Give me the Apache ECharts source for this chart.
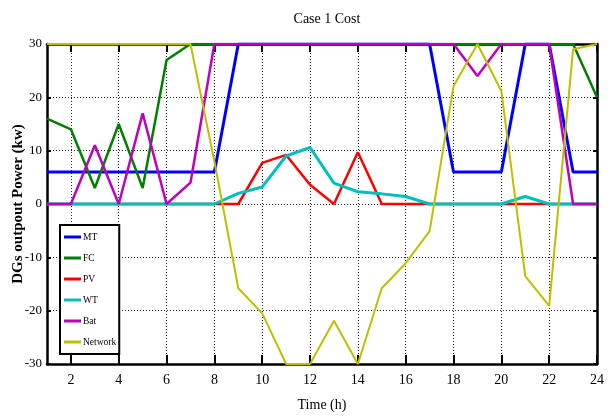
<!DOCTYPE html>
<html>
<head>
<meta charset="utf-8">
<script src="https://cdn.jsdelivr.net/npm/echarts@6/dist/echarts.min.js"></script>
<style>
html,body{margin:0;padding:0;background:#fff;}
#chart{width:614px;height:417px;}
</style>
</head>
<body>
<div id="chart"></div>
<script>
var hours = ['1','2','3','4','5','6','7','8','9','10','11','12','13','14','15','16','17','18','19','20','21','22','23','24'];
var MT = [6,6,6,6,6,6,6,6,30,30,30,30,30,30,30,30,30,6,6,6,30,30,6,6];
var FC = [16,14,3,15,3,27,30,30,30,30,30,30,30,30,30,30,30,30,30,30,30,30,30,20];
var PV = [0,0,0,0,0,0,0,0,0,7.7,9.2,3.6,0,9.7,0,0,0,0,0,0,0,0,0,0];
var WT = [0,0,0,0,0,0,0,0,2.0,3.2,9.0,10.6,3.9,2.3,1.9,1.4,0,0,0,0,1.4,0,0,0];
var Bat = [0,0,11,0,17,0,4,30,30,30,30,30,30,30,30,30,30,30,24,30,30,30,0,0];
var Network = [30,30,30,30,30,30,30,8,-15.8,-20.5,-30,-30,-21.9,-30,-15.8,-11.1,-5.1,22.1,30,21.2,-13.5,-19.1,29,30];

var FONT = 'Liberation Serif';
var chart = echarts.init(document.getElementById('chart'));
function evenIdx(i){ return i % 2 === 1; }
function mk(name, data, color, width){
  return {name:name, type:'line', data:data, symbol:'none', xAxisIndex:0, yAxisIndex:0,
          lineStyle:{color:color, width:width}, itemStyle:{color:color}};
}
chart.setOption({
  animation:false,
  backgroundColor:'#fff',
  title:{text:'Case 1 Cost', left:322, top:7, textAlign:'center',
         textStyle:{fontFamily:FONT, fontSize:14, fontWeight:'normal', color:'#000'}},
  grid:{left:47, right:17, top:44, bottom:53, containLabel:false, outerBoundsMode:'none'},
  legend:{orient:'vertical', left:60, top:225, padding:[7,3,7,4], itemGap:11,
          itemWidth:17, itemHeight:3, icon:'rect', backgroundColor:'#fff',
          borderColor:'#000', borderWidth:2,
          textStyle:{fontFamily:FONT, fontSize:9.5, color:'#000', padding:[0,0,0,-3]},
          data:['MT','FC','PV','WT','Bat','Network']},
  xAxis:[{type:'category', data:hours, boundaryGap:false, position:'bottom',
          name:'Time (h)', nameLocation:'middle', nameGap:34,
          nameTextStyle:{fontFamily:FONT, fontSize:14, color:'#000'},
          axisLine:{onZero:false, lineStyle:{color:'#000', width:2.5}},
          axisTick:{inside:true, length:9, interval:evenIdx, lineStyle:{color:'#000', width:2}},
          axisLabel:{interval:evenIdx, fontFamily:FONT, fontSize:14, color:'#000', margin:9},
          splitLine:{show:true, interval:evenIdx, lineStyle:{color:'#222', type:[1,2], width:1}}},
         {type:'category', data:hours, boundaryGap:false, position:'top',
          axisLine:{onZero:false, lineStyle:{color:'#000', width:2.5}},
          axisTick:{inside:true, length:8, interval:evenIdx, lineStyle:{color:'#000', width:2}},
          axisLabel:{show:false}, splitLine:{show:false}}],
  yAxis:[{type:'value', min:-30, max:30, interval:10, position:'left',
          name:'DGs outpout Power (kw)', nameLocation:'middle', nameGap:21, nameMoveOverlap:false,
          nameTextStyle:{fontFamily:FONT, fontSize:15, fontWeight:'bold', color:'#000'},
          axisLine:{show:true, onZero:false, lineStyle:{color:'#000', width:2.5}},
          axisTick:{show:true, inside:true, length:4, lineStyle:{color:'#000', width:2}},
          axisLabel:{fontFamily:FONT, fontSize:13, color:'#000', margin:5},
          splitLine:{show:true, lineStyle:{color:'#222', type:[1,2], width:1}}},
         {type:'value', min:-30, max:30, interval:10, position:'right',
          axisLine:{show:true, onZero:false, lineStyle:{color:'#000', width:2.5}},
          axisTick:{show:true, inside:true, length:4, lineStyle:{color:'#000', width:2}},
          axisLabel:{show:false}, splitLine:{show:false}}],
  series:[
    mk('MT', MT, '#0000FF', 3),
    mk('FC', FC, '#008000', 2.5),
    mk('PV', PV, '#FF0000', 2.5),
    mk('WT', WT, '#00BFBF', 3),
    mk('Bat', Bat, '#BF00BF', 2.5),
    mk('Network', Network, '#BFBF00', 2)
  ]
});
</script>
</body>
</html>
